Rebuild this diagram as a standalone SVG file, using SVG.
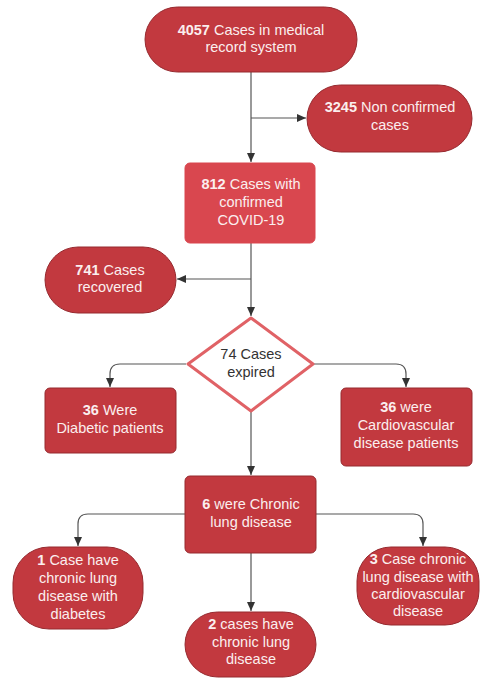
<svg xmlns="http://www.w3.org/2000/svg" width="480" height="680" viewBox="0 0 480 680">
<defs>
<marker id="arr" markerWidth="10" markerHeight="10" refX="9" refY="5" orient="auto" markerUnits="userSpaceOnUse">
<path d="M0,1 L9,5 L0,9 Z" fill="#333"/>
</marker>
<style>
.dark{fill:#c2393f;stroke:#962a2f;stroke-width:1}
.light{fill:#d9474f;stroke:#d9474f;stroke-width:1}
.dia{fill:#fff;stroke:#e06266;stroke-width:3}
text{font-family:"Liberation Sans",Arial,sans-serif;font-size:14.5px;fill:#fbeeee;text-anchor:middle}
.b{font-weight:bold}
.dt{fill:#333}
.con{fill:none;stroke:#555;stroke-width:1.2;marker-end:url(#arr)}
.ln{fill:none;stroke:#555;stroke-width:1.2}
</style>
</defs>
<rect width="480" height="680" fill="#fff"/>
<g id="connectors">
<path class="ln" d="M251,72 V118"/>
<path class="con" d="M251,118 H306"/>
<path class="con" d="M251,118 V162"/>
<path class="ln" d="M251,243 V279"/>
<path class="con" d="M251,279 H177"/>
<path class="con" d="M251,279 V316"/>
<path class="con" d="M186,364 H120 Q110,364 110,374 V387"/>
<path class="con" d="M314,364 H396 Q406,364 406,374 V387"/>
<path class="con" d="M251,412 V475"/>
<path class="con" d="M185,514 H88 Q78,514 78,524 V546"/>
<path class="con" d="M316,514 H413 Q423,514 423,524 V546"/>
<path class="con" d="M251,553 V611"/>
</g>
<g id="n1"><rect class="dark" x="145" y="7" width="212" height="65" rx="32.5"/>
<text x="251" y="35"><tspan class="b">4057</tspan> Cases in medical</text><text x="251" y="52">record system</text></g>
<g id="n2"><rect class="dark" x="307" y="85" width="165" height="67" rx="33.5"/>
<text x="390" y="112"><tspan class="b">3245</tspan> Non confirmed</text><text x="390" y="130">cases</text></g>
<g id="n3"><rect class="light" x="185" y="163" width="130" height="80" rx="5"/>
<text x="251" y="189"><tspan class="b">812</tspan> Cases with</text><text x="251" y="207">confirmed</text><text x="251" y="225">COVID-19</text></g>
<g id="n4"><rect class="dark" x="45" y="247" width="131" height="66" rx="33"/>
<text x="110" y="275"><tspan class="b">741</tspan> Cases</text><text x="110" y="292">recovered</text></g>
<g id="n5"><path class="dia" d="M251,318 L313,364 L251,411 L188,364 Z" stroke-linejoin="round"/>
<text class="dt" x="251" y="359">74 Cases</text><text class="dt" x="251" y="377">expired</text></g>
<g id="n6"><rect class="dark" x="45" y="388" width="131" height="65" rx="5"/>
<text x="110" y="415"><tspan class="b">36</tspan> Were</text><text x="110" y="433">Diabetic patients</text></g>
<g id="n7"><rect class="dark" x="341" y="388" width="131" height="78" rx="5"/>
<text x="406" y="412"><tspan class="b">36</tspan> were</text><text x="406" y="430">Cardiovascular</text><text x="406" y="448">disease patients</text></g>
<g id="n8"><rect class="dark" x="185" y="476" width="131" height="77" rx="5"/>
<text x="251" y="509"><tspan class="b">6</tspan> were Chronic</text><text x="251" y="527">lung disease</text></g>
<g id="n9"><rect class="dark" x="13" y="547" width="130" height="82" rx="36"/>
<text x="78" y="565"><tspan class="b">1</tspan> Case have</text><text x="78" y="583">chronic lung</text><text x="78" y="601">disease with</text><text x="78" y="619">diabetes</text></g>
<g id="n10"><rect class="dark" x="185" y="612" width="131" height="65" rx="32.5"/>
<text x="251" y="629"><tspan class="b">2</tspan> cases have</text><text x="251" y="647">chronic lung</text><text x="251" y="664">disease</text></g>
<g id="n11"><rect class="dark" x="357" y="547" width="122" height="78" rx="34"/>
<text x="418" y="564"><tspan class="b">3</tspan> Case chronic</text><text x="418" y="582">lung disease with</text><text x="418" y="599">cardiovascular</text><text x="418" y="616">disease</text></g>
</svg>
